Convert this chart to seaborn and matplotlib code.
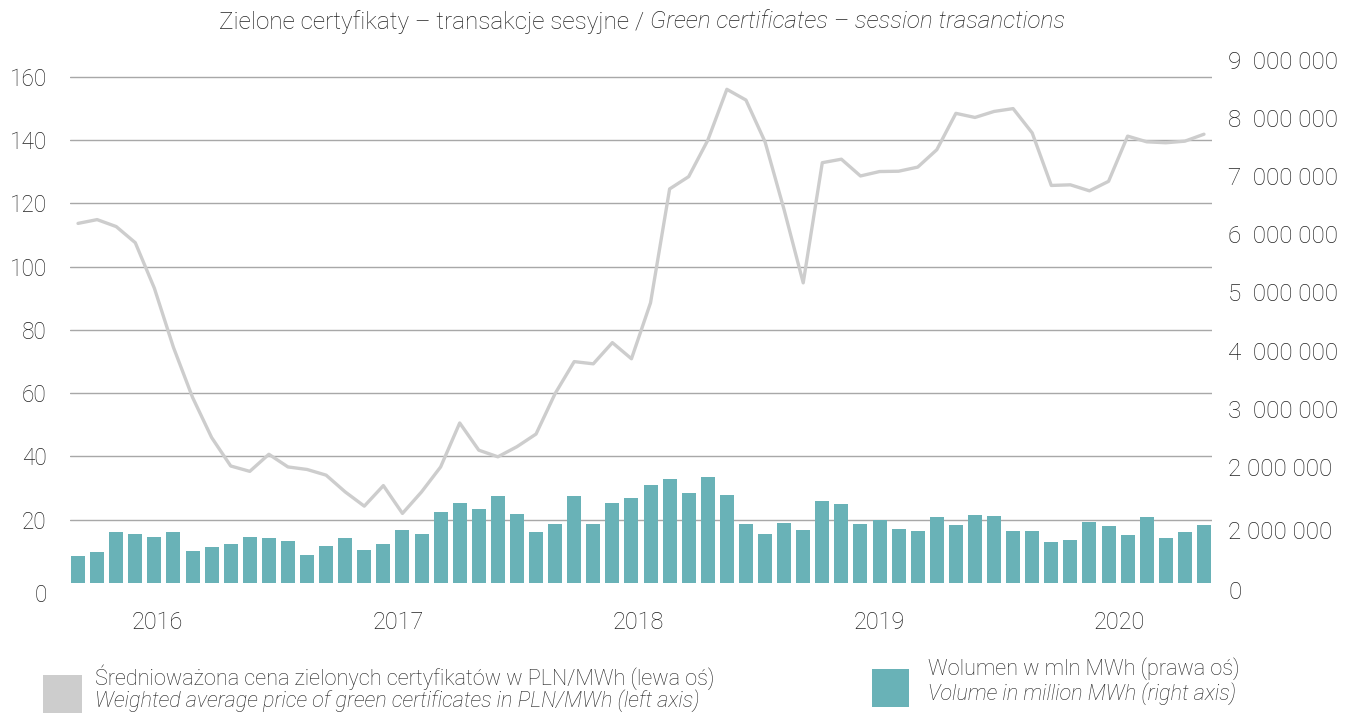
import numpy as np
import matplotlib
matplotlib.use("Agg")
import matplotlib.pyplot as plt
import matplotlib.transforms as mtransforms
from matplotlib.patches import Rectangle
import seaborn as sns

# weighted average price, PLN/MWh (left axis)
price = [113.7, 114.9, 112.7, 107.6, 93.2, 74.5, 58.7, 46.0, 37.0, 35.3,
         40.7, 36.7, 35.9, 34.1, 28.8, 24.3, 30.8, 22.0, 28.8, 36.7,
         50.6, 42.0, 39.9, 43.1, 47.1, 59.9, 70.0, 69.3, 76.0, 70.9,
         88.6, 124.6, 128.5, 140.0, 156.1, 152.7, 139.5, 118.0, 94.9, 132.9,
         134.0, 128.7, 130.1, 130.2, 131.5, 137.0, 148.5, 147.2, 149.1, 150.0,
         142.3, 125.7, 125.9, 124.0, 127.0, 141.3, 139.5, 139.2, 139.7, 141.9]

# session volume, MWh (right axis)
volume = [468000, 533000, 876000, 849000, 794000, 876000, 555000, 620000, 675000, 794000,
          778000, 724000, 484000, 637000, 778000, 571000, 675000, 914000, 849000, 1224000,
          1382000, 1279000, 1502000, 1192000, 876000, 1018000, 1502000, 1018000, 1382000, 1469000,
          1692000, 1796000, 1556000, 1823000, 1518000, 1018000, 849000, 1039000, 914000, 1415000,
          1366000, 1018000, 1088000, 936000, 898000, 1137000, 1001000, 1175000, 1154000, 898000,
          898000, 697000, 745000, 1056000, 985000, 827000, 1137000, 778000, 876000, 1001000]

year_labels = ["2016", "2017", "2018", "2019", "2020"]
year_pos = [4.14, 16.77, 29.35, 41.98, 54.56]

price_ticks = [0, 20, 40, 60, 80, 100, 120, 140, 160]
volume_ticks = [0, 1000000, 2000000, 3000000, 4000000, 5000000,
                6000000, 7000000, 8000000, 9000000]
volume_tick_labels = ["0", "2 000 000", "2 000 000", "3  000 000", "4  000 000",
                      "5  000 000", "6  000 000", "7  000 000", "8  000 000", "9  000 000"]

TEAL = "#69B2B7"
GRAY = "#CDCDCD"
TEXT = "#222222"
W, H = 1354, 713

sns.set_theme(style="white")
plt.rcParams["font.family"] = ["Roboto", "DejaVu Sans"]
plt.rcParams["font.weight"] = "light"

fig = plt.figure(figsize=(W / 100, H / 100), dpi=100)
ax = fig.add_axes([70.4 / W, 1 - 583 / H, (1211.6 - 70.4) / W, (583 - 58) / H])
ax2 = ax.twinx()

idx = np.arange(len(price))
sns.lineplot(x=idx, y=price, ax=ax, color=GRAY, linewidth=2.4)
sns.barplot(x=idx, y=volume, ax=ax2, color=TEAL, saturation=1, width=0.73,
            linewidth=0, edgecolor="none")

# line above the bars, grid below them
ax.set_zorder(ax2.get_zorder() + 1)
ax.patch.set_visible(False)

price_top = 166
vol_top = 9033000
ax.set_ylim(0, price_top)
ax2.set_ylim(0, vol_top)
ax.set_xlim(-0.4, 59.4)

ax.set_yticks(price_ticks)
ax.grid(False)
ax2.set_yticks(volume_ticks, labels=volume_tick_labels)
ax2.set_yticks([t * vol_top / price_top for t in price_ticks], minor=True)
ax2.yaxis.grid(True, which="minor", color="#A8A8A8", linewidth=1.0)
ax2.yaxis.grid(False, which="major")
ax2.xaxis.grid(False)

ax.set_xticks(year_pos, labels=year_labels)
for a in (ax, ax2):
    a.set_xlabel("")
    a.set_ylabel("")
    for s in a.spines.values():
        s.set_visible(False)

ax.tick_params(axis="y", length=0, pad=17, labelsize=16.3, labelcolor=TEXT)
ax.tick_params(axis="x", length=0, pad=20, labelsize=16.8, labelcolor=TEXT)
ax2.tick_params(axis="y", which="both", length=0, pad=12, labelsize=17.5, labelcolor=TEXT)

# the zero labels sit a little below the baseline in the original
off_left = mtransforms.ScaledTranslation(0, -0.10, fig.dpi_scale_trans)
off_right = mtransforms.ScaledTranslation(0, -0.07, fig.dpi_scale_trans)
lbl = ax.get_yticklabels()[0]
lbl.set_transform(lbl.get_transform() + off_left)
lbl = ax2.get_yticklabels()[0]
lbl.set_transform(lbl.get_transform() + off_right)
lbl = ax2.get_yticklabels()[1]
lbl.set_transform(lbl.get_transform() + mtransforms.ScaledTranslation(0, -0.05, fig.dpi_scale_trans))

# title, regular + italic
fig.text(650 / W, 1 - 22 / H, "Zielone certyfikaty – transakcje sesyjne / ",
         ha="right", va="center", fontsize=17.5, color=TEXT)
fig.text(650 / W, 1 - 22 / H, "Green certificates – session trasanctions",
         ha="left", va="center", fontsize=17.5, color=TEXT, style="italic")

# legend
fig.patches.append(Rectangle((43 / W, 0), 39 / W, 38 / H, transform=fig.transFigure,
                             facecolor=GRAY, edgecolor="none"))
fig.patches.append(Rectangle((872 / W, 1 - 707 / H), 37 / W, 38 / H, transform=fig.transFigure,
                             facecolor=TEAL, edgecolor="none"))
fig.text(95 / W, 1 - 677 / H, "Średnioważona cena zielonych certyfikatów w PLN/MWh (lewa oś)",
         ha="left", va="center", fontsize=15.6, color=TEXT)
fig.text(95 / W, 1 - 701 / H, "Weighted average price of green certificates in PLN/MWh (left axis)",
         ha="left", va="center", fontsize=15.6, color=TEXT, style="italic")
fig.text(928 / W, 1 - 669 / H, "Wolumen w mln MWh (prawa oś)",
         ha="left", va="center", fontsize=15.6, color=TEXT)
fig.text(928 / W, 1 - 694 / H, "Volume in million MWh (right axis)",
         ha="left", va="center", fontsize=15.6, color=TEXT, style="italic")

fig.savefig("out.png", dpi=100)
